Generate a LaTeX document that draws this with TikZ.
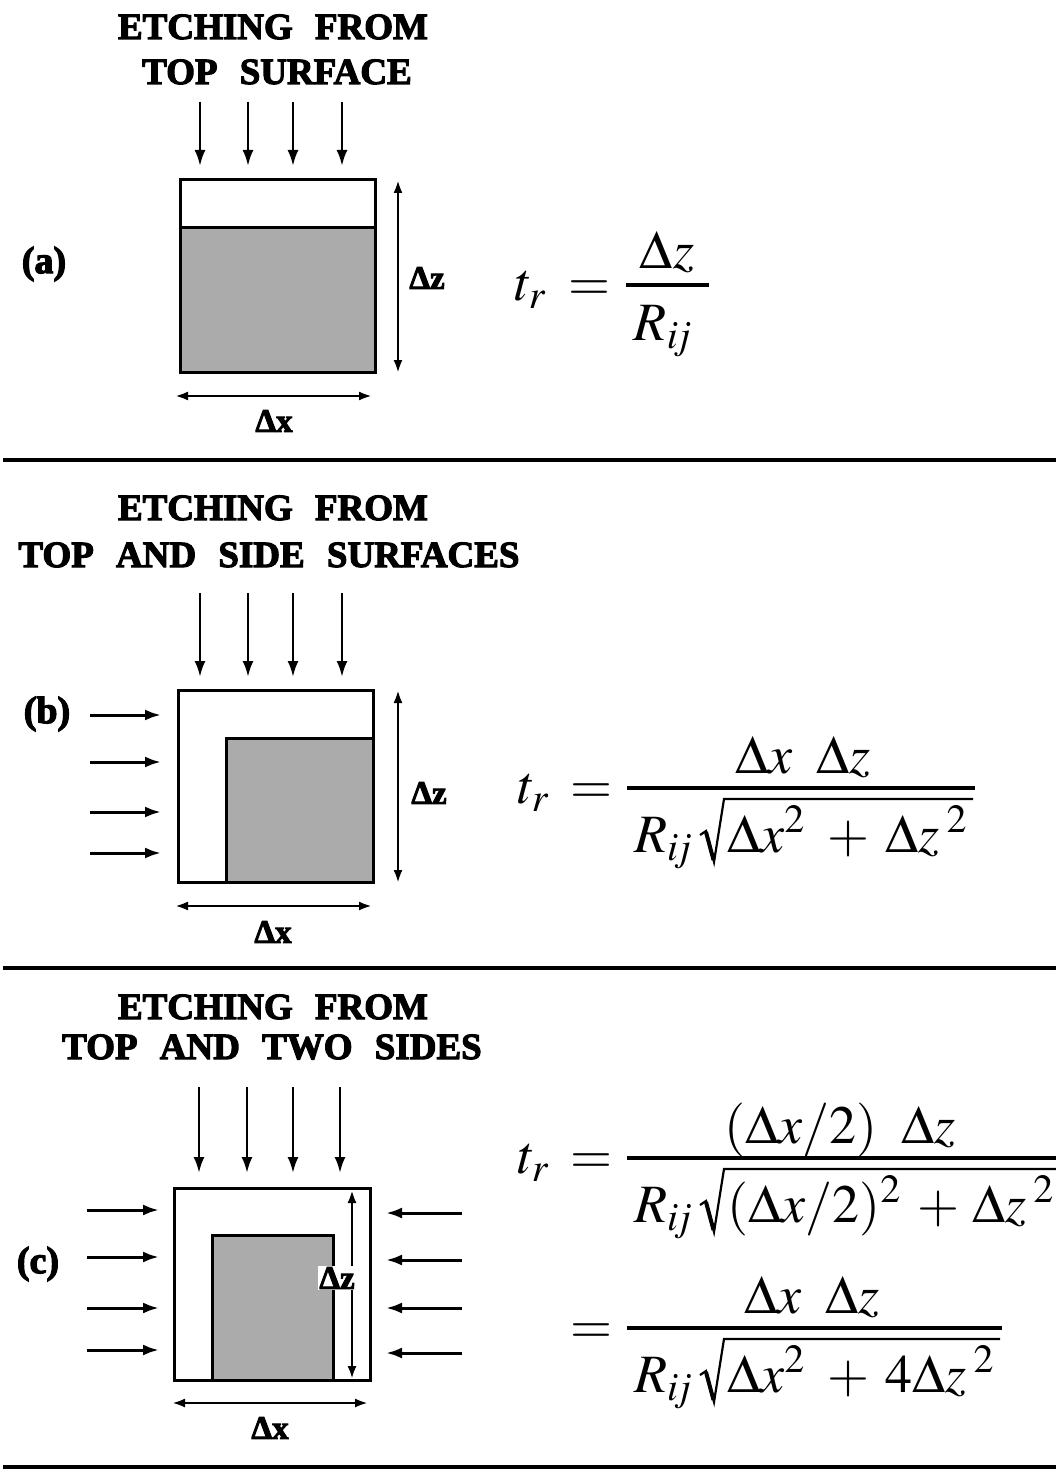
\documentclass[tikz,border=0pt]{standalone}
\usepackage{mathptmx}
\usepackage[no-math]{fontspec}
\setmainfont{Liberation Serif}
\newfontfamily\heavy{Liberation Serif}[BoldFeatures={FakeBold=3}]
\usetikzlibrary{arrows.meta}
\begin{document}
\begin{tikzpicture}[x=1pt,y=-1pt]
\tikzset{
 ttl/.style={font=\fontsize{37}{40}\heavy\bfseries, inner sep=0pt},
 lbl/.style={font=\fontsize{33}{38}\heavy\bfseries, inner sep=1pt},
 plbl/.style={font=\fontsize{38}{42}\heavy\bfseries, inner sep=0pt},
 fm/.style={font=\fontsize{54}{62}\selectfont, inner sep=0pt},
 boxl/.style={line width=3pt},
 shd/.style={fill=black!33},
 flow/.style={line width=2.6pt, -{Latex[length=16pt,width=11pt]}},
 sflow/.style={line width=3pt, -{Latex[length=16pt,width=11pt]}},
 dimar/.style={line width=2.5pt, {Latex[length=13pt,width=9pt]}-{Latex[length=13pt,width=9pt]}},
 sepl/.style={line width=3.5pt},
 fbar/.style={line width=3.2pt},
 radl/.style={line width=2.2pt, line join=miter},
}
\newcommand{\wsp}{\hspace{0.6em}}
\newcommand{\Rij}{R_{i\mkern-2mu j}}
% radical: #1 x start, #2 baseline, #3 overline y, #4 radicand node
\newcommand{\radic}[4]{%
  \draw[radl] (#1,#2-17) -- (#1+6,#2-21) -- (#1+14,#2+10) -- (#1+24,#3) -- (#4.east |- 0,#3);
  \draw[line width=4pt] (#1+6,#2-20) -- (#1+13.5,#2+8);}
\useasboundingbox (0,0) rectangle (1056,1471);

% ---------- panel (a) ----------
\node[ttl, anchor=base] (ta1) at (273,39) {ETCHING\wsp FROM};
\node[ttl, anchor=base] (ta2) at (277,84) {TOP\wsp SURFACE};
\foreach \x in {200,248,293,342} \draw[flow] (\x,102) -- (\x,166);
\fill[shd] (180,228) rectangle (375,372);
\draw[boxl] (180,180) rectangle (375,372);
\draw[boxl] (180,228) -- (375,228);
\draw[dimar] (398,180) -- (398,373);
\draw[dimar] (175,396) -- (372,396);
\node[lbl] (dza) at (427,278) {Δz};
\node[lbl] (dxa) at (274,421) {Δx};
\node[plbl] (pa) at (44,264) {(a)};
\node[fm, anchor=base west] (trA) at (515,300) {$t_r$};
\node[fm] (eqA) at (589,291) {$=$};
\node[fm, anchor=base] (numA) at (667,268) {$\Delta z$};
\draw[fbar] (626,285) -- (709,285);
\node[fm, anchor=base] (denA) at (663,340) {$\Rij$};
\draw[sepl] (3,460) -- (1056,460);

% ---------- panel (b) ----------
\node[ttl, anchor=base] (tb1) at (273,520) {ETCHING\wsp FROM};
\node[ttl, anchor=base] (tb2) at (269,567) {TOP\wsp AND\wsp SIDE\wsp SURFACES};
\foreach \x in {200,248,293,342} \draw[flow] (\x,593) -- (\x,677);
\foreach \y in {715,762,812,853} \draw[sflow] (90,\y) -- (161,\y);
\fill[shd] (226,738) rectangle (373,882);
\draw[boxl] (178,690) rectangle (373,882);
\draw[boxl] (226,882) -- (226,738) -- (373,738);
\draw[dimar] (398,690) -- (398,883);
\draw[dimar] (175,906) -- (372,906);
\node[lbl] (dzb) at (429,793) {Δz};
\node[lbl] (dxb) at (273,932) {Δx};
\node[plbl] (pb) at (47,714) {(b)};
\node[fm, anchor=base west] (trB) at (518,803) {$t_r$};
\node[fm] (eqB) at (591,794) {$=$};
\node[fm, anchor=base] (numB) at (803,773) {$\Delta x\mkern8mu\Delta z$};
\draw[fbar] (627,788) -- (975,788);
\node[fm, anchor=base west] (RB) at (634,852) {$\Rij$};
\node[fm, anchor=base west] (radB) at (727,852) {$\Delta x^{2}\mkern5mu+\mkern3mu\Delta z^{\mkern3mu 2}\mkern2mu$};
\radic{700}{852}{799}{radB}
\draw[sepl] (3,968) -- (1056,968);

% ---------- panel (c) ----------
\node[ttl, anchor=base] (tc1) at (273,1019) {ETCHING\wsp FROM};
\node[ttl, anchor=base] (tc2) at (272,1059) {TOP\wsp AND\wsp TWO\wsp SIDES};
\foreach \x in {199,247,293,340} \draw[flow] (\x,1087) -- (\x,1173);
\foreach \y in {1210,1257,1308,1350} \draw[sflow] (87,\y) -- (159,\y);
\foreach \y in {1213,1260,1308,1353} \draw[sflow] (462,\y) -- (386,\y);
\fill[shd] (212,1235) rectangle (333,1380);
\draw[boxl] (174,1188) rectangle (370,1380);
\draw[boxl] (212,1380) -- (212,1235) -- (333,1235) -- (333,1380);
\draw[dimar] (352,1190) -- (352,1379);
\draw[dimar] (172,1403) -- (368,1403);
\node[lbl, fill=white] (dzc) at (337,1278) {Δz};
\node[lbl] (dxc) at (270,1428) {Δx};
\node[plbl] (pc) at (38,1264) {(c)};
\node[fm, anchor=base west] (trC) at (518,1173) {$t_r$};
\node[fm] (eqC) at (591,1164) {$=$};
\node[fm, anchor=base] (numC) at (840,1143) {$(\Delta x/2)\mkern8mu\Delta z$};
\draw[fbar] (627,1158) -- (1056,1158);
\node[fm, anchor=base west] (RC) at (634,1222) {$\Rij$};
\node[fm, anchor=base west] (radC) at (727,1222) {$(\Delta x/2)^{2}\mkern3mu+\mkern2mu\Delta z^{\mkern3mu 2}\mkern1mu$};
\radic{700}{1222}{1169}{radC}
\node[fm] (eqD) at (591,1334) {$=$};
\node[fm, anchor=base] (numD) at (812,1313) {$\Delta x\mkern8mu\Delta z$};
\draw[fbar] (627,1328) -- (1002,1328);
\node[fm, anchor=base west] (RD) at (634,1392) {$\Rij$};
\node[fm, anchor=base west] (radD) at (727,1392) {$\Delta x^{2}\mkern5mu+\mkern3mu4\Delta z^{\mkern3mu 2}\mkern2mu$};
\radic{700}{1392}{1339}{radD}
\draw[sepl] (3,1467) -- (1056,1467);
\end{tikzpicture}
\end{document}
